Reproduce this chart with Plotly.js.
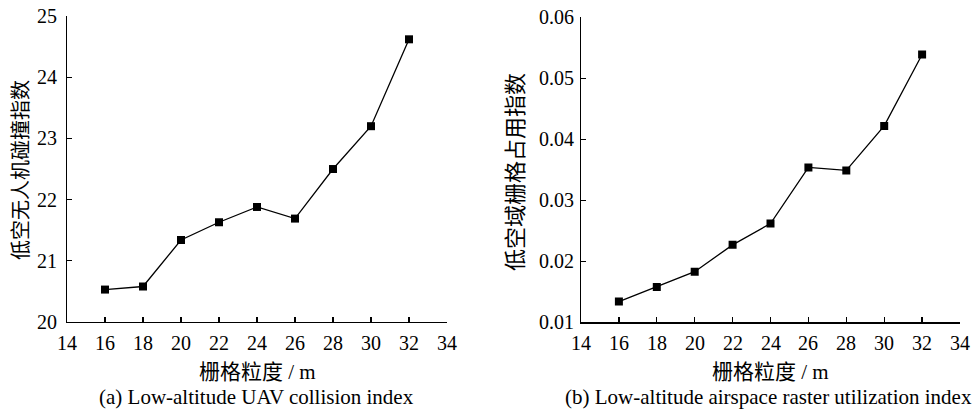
<!DOCTYPE html>
<html>
<head>
<meta charset="utf-8">
<script src="https://cdn.plot.ly/plotly-3.0.1.min.js"></script>
<style>html,body{margin:0;padding:0;background:#fff;}#chart{width:978px;height:409px;}</style>
</head>
<body>
<div id="chart"></div>
<script>
const granularity = [16, 18, 20, 22, 24, 26, 28, 30, 32];
const collisionIndex = [20.53, 20.58, 21.34, 21.63, 21.88, 21.69, 22.50, 23.20, 24.62];
const utilizationIndex = [0.0134, 0.0158, 0.0183, 0.0227, 0.0262, 0.0354, 0.0349, 0.0422, 0.0539];
const xTickVals = [14, 16, 18, 20, 22, 24, 26, 28, 30, 32, 34];
const yTickValsA = [20, 21, 22, 23, 24, 25];
const yTickTextA = ['20', '21', '22', '23', '24', '25'];
const yTickValsB = [0.01, 0.02, 0.03, 0.04, 0.05, 0.06];
const yTickTextB = ['0.01', '0.02', '0.03', '0.04', '0.05', '0.06'];
const xTitle = '栅格粒度 / m';
const yTitleA = '低空无人机碰撞指数';
const yTitleB = '低空域栅格占用指数';
const captionA = '(a) Low-altitude UAV collision index';
const captionB = '(b) Low-altitude airspace raster utilization index';

const SERIF = 'Liberation Serif';
const FONT = 'Liberation Serif, Noto Sans CJK SC, serif';
const TICKSIZE = 20;

function trace(xs, ys, xa, ya) {
  return {x: xs, y: ys, xaxis: xa, yaxis: ya, mode: 'lines+markers', type: 'scatter',
    marker: {symbol: 'square', size: 8, color: '#000'}, line: {color: '#000', width: 1.3}};
}
const traces = [
  trace(granularity, collisionIndex, 'x', 'y'),
  trace(granularity, utilizationIndex, 'x2', 'y2')
];

function axis(extra) {
  const a = {
    showgrid: false, zeroline: false, showline: true, linecolor: '#000', linewidth: 1.4,
    ticks: 'inside', ticklen: 5, tickwidth: 1.2, tickcolor: '#000',
    showticklabels: false, tickmode: 'array'
  };
  return Object.assign(a, extra);
}

function ann(text, x, y, size, angle) {
  const a = {text: text, xref: 'paper', yref: 'paper', x: x / 978, y: 1 - y / 409,
    xanchor: 'center', yanchor: 'middle', showarrow: false,
    font: {family: FONT, size: size, color: '#000'}};
  if (angle) a.textangle = angle;
  return a;
}

const annotations = [
  ann(xTitle, 257, 372, 21),
  ann(xTitle, 770, 372, 21),
  ann(captionA, 256.5, 397, 21),
  ann(captionB, 768.5, 397, 21),
  ann(yTitleA, 21, 170, 20, -90),
  ann(yTitleB, 516, 172, 22, -90)
];

// tick labels placed through the axes' own scales
function tickFont() { return {family: SERIF, size: TICKSIZE, color: '#000'}; }
xTickVals.forEach(function (v) {
  annotations.push({text: String(v), xref: 'x', yref: 'paper', x: v, y: 1 - 343/409, xanchor: 'center', yanchor: 'middle', showarrow: false, font: tickFont()});
  annotations.push({text: String(v), xref: 'x2', yref: 'paper', x: v, y: 1 - 343/409, xanchor: 'center', yanchor: 'middle', showarrow: false, font: tickFont()});
});
yTickValsA.forEach(function (v, i) {
  annotations.push({text: yTickTextA[i], xref: 'paper', yref: 'y', x: 59/978, y: v, xanchor: 'right', yanchor: 'middle', showarrow: false, font: tickFont()});
});
yTickValsB.forEach(function (v, i) {
  annotations.push({text: yTickTextB[i], xref: 'paper', yref: 'y2', x: 576/978, y: v, xanchor: 'right', yanchor: 'middle', showarrow: false, font: tickFont()});
});

const layout = {
  width: 978, height: 409,
  margin: {l: 0, r: 0, t: 0, b: 0},
  paper_bgcolor: '#fff', plot_bgcolor: '#fff',
  showlegend: false,
  font: {family: SERIF, size: TICKSIZE, color: '#000'},
  xaxis: axis({domain: [67/978, 447/978], range: [14, 34], tickvals: xTickVals, anchor: 'y'}),
  yaxis: axis({domain: [1 - 322/409, 1 - 16/409], range: [20, 25.001], tickvals: yTickValsA, anchor: 'x'}),
  xaxis2: axis({domain: [581/978, 960/978], range: [14, 34], tickvals: xTickVals, anchor: 'y2'}),
  yaxis2: axis({domain: [1 - 322.3/409, 1 - 17.3/409], range: [0.01, 0.06001], tickvals: yTickValsB, anchor: 'x2'}),
  annotations: annotations
};

Plotly.newPlot('chart', traces, layout, {displayModeBar: false, staticPlot: true});
</script>
</body>
</html>
